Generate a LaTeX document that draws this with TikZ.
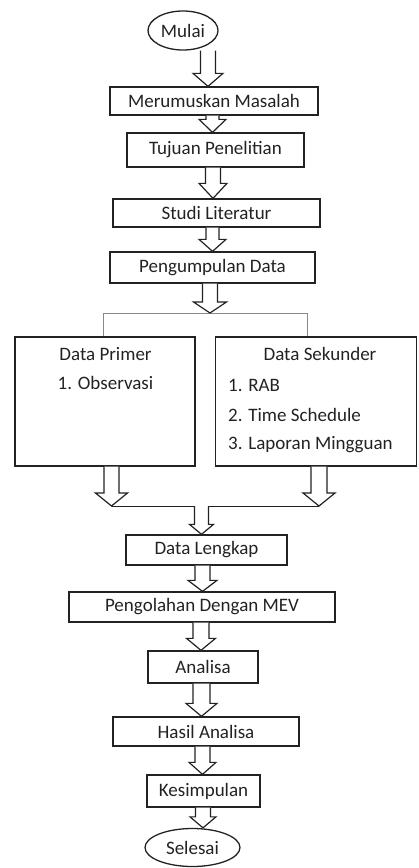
\documentclass[tikz,border=0pt]{standalone}
\usepackage{fontspec}
\setmainfont{Carlito}
\usetikzlibrary{shapes.geometric,calc}
\definecolor{ink}{HTML}{222222}
\definecolor{txtc}{HTML}{222222}
\definecolor{brk}{HTML}{8A8A8A}
\tikzset{
  box/.style={draw=ink, line width=1.3pt, rectangle, inner sep=0pt, text=txtc, font=\fontsize{19}{22}\selectfont},
  oval/.style={draw=ink, line width=1.3pt, ellipse, inner sep=0pt, text=txtc, font=\fontsize{19}{22}\selectfont},
  txt/.style={inner sep=0pt, text=txtc, font=\fontsize{19}{22}\selectfont},
  barrowstyle/.style={draw=ink, line width=1.2pt, fill=white, line join=miter},
  brline/.style={draw=brk, line width=0.9pt},
  jline/.style={draw=ink, line width=0.9pt}
}
% #1 source, #2 target, #3 x centre, #4 shaft half width, #5 head half width, #6 head length
\newcommand{\barr}[6]{%
  \draw[barrowstyle] let \p1=(#1), \p2=(#2) in
    (#3-#4,\y1) -- (#3-#4,\y2+#6pt) -- (#3-#5,\y2+#6pt) -- (#3,\y2)
    -- (#3+#5,\y2+#6pt) -- (#3+#4,\y2+#6pt) -- (#3+#4,\y1);%
}
\begin{document}
\begin{tikzpicture}[x=1pt,y=-1pt]
\useasboundingbox (0,0) rectangle (418,868);

\node[oval, minimum width=70, minimum height=39] (mulai) at (183,30.5) {Mulai};
\node[box, minimum width=208, minimum height=28] (merum) at (214,101) {Merumuskan Masalah};
\node[box, minimum width=177, minimum height=34] (tujuan) at (215.5,150) {Tujuan Penelitian};
\node[box, minimum width=207, minimum height=28] (studi) at (216.5,213) {Studi Literatur};
\node[box, minimum width=205, minimum height=31] (kumpul) at (212.5,267.5) {Pengumpulan Data};

\node[box, minimum width=180, minimum height=129] (prim) at (105,401.5) {};
\node[box, minimum width=201, minimum height=129] (sek) at (316,401.5) {};
\node[txt] (primt) at (105.5,354) {Data Primer};
\node[txt] (prim1) at (105.5,383) {1. Observasi};
\node[txt] (sekt) at (320,354) {Data Sekunder};
\node[txt, anchor=west] (sek1) at (228,385) {1. RAB};
\node[txt, anchor=west] (sek2) at (228,415) {2. Time Schedule};
\node[txt, anchor=west] (sek3) at (228,445) {3. Laporan Mingguan};

\node[box, minimum width=161, minimum height=30] (lengkap) at (206.5,550) {Data Lengkap};
\node[box, minimum width=266, minimum height=30] (mev) at (202,607) {Pengolahan Dengan MEV};
\node[box, minimum width=110, minimum height=32] (analisa) at (203,667) {Analisa};
\node[box, minimum width=186, minimum height=29] (hasil) at (206,731.5) {Hasil Analisa};
\node[box, minimum width=113, minimum height=32] (simpul) at (203.5,791) {Kesimpulan};
\node[oval, minimum width=95, minimum height=38] (selesai) at (192.5,847.5) {Selesai};

% bracket above the two data boxes
\coordinate (bl) at (103,313);
\coordinate (br) at (307,313);
\coordinate (bm) at (210,313);
\draw[brline] (prim.north -| bl) -- (bl) -- (br) -- (sek.north -| br);

% junction below the two data boxes
\coordinate (jl) at (111.5,506);
\coordinate (jr) at (319,506);
\coordinate (jm) at (201.5,506);
\draw[jline] (jl) -- (jr);

\barr{mulai.south}{merum.north}{208}{7.5}{15}{13}
\barr{merum.south}{tujuan.north}{212.5}{6.5}{13.5}{13}
\barr{tujuan.south}{studi.north}{213}{7.5}{14}{15}
\barr{studi.south}{kumpul.north}{212.5}{6.5}{13.5}{12}
\barr{kumpul.south}{bm}{210}{7.5}{16.5}{11}
\barr{prim.south}{jl}{111.5}{7.5}{16}{13}
\barr{sek.south}{jr}{319}{8}{16}{13}
\barr{jm}{lengkap.north}{201.5}{7}{12}{10}
\barr{lengkap.south}{mev.north}{202.5}{7.5}{14.5}{11}
\barr{mev.south}{analisa.north}{201}{8}{14.5}{12}
\barr{analisa.south}{hasil.north}{201.5}{8.5}{15.5}{13}
\barr{hasil.south}{simpul.north}{202.5}{7.5}{13.5}{12}
\barr{simpul.south}{selesai.north}{203}{7.5}{13}{11}
\end{tikzpicture}
\end{document}
